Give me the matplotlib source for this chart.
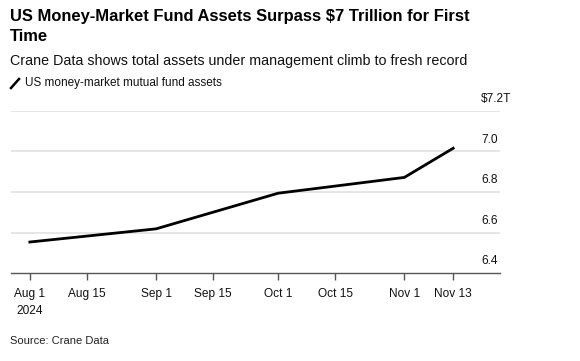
import matplotlib
matplotlib.use("Agg")
import matplotlib.pyplot as plt
import matplotlib.dates as mdates
import numpy as np
from datetime import datetime, timedelta

plt.rcParams['font.family'] = ['Liberation Sans', 'DejaVu Sans']

dates = ["2024-08-01", "2024-09-01", "2024-10-01", "2024-11-01", "2024-11-13"]
assets = [6.553, 6.618, 6.794, 6.872, 7.016]

tick_dates = ["2024-08-01", "2024-08-15", "2024-09-01", "2024-09-15",
              "2024-10-01", "2024-10-15", "2024-11-01", "2024-11-13"]
tick_labels = ["Aug 1\n2024", "Aug 15", "Sep 1", "Sep 15", "Oct 1", "Oct 15", "Nov 1", "Nov 13"]
y_ticks = [6.4, 6.6, 6.8, 7.0, 7.2]
y_labels = ["6.4", "6.6", "6.8", "7.0", "$7.2T"]

W, H = 580, 361
fig = plt.figure(figsize=(W / 100, H / 100), dpi=100)
ax = fig.add_axes([10.7 / W, 1 - 273 / H, (500 - 10.7) / W, (273 - 111) / H])

x = [datetime.strptime(d, "%Y-%m-%d") for d in dates]
ax.plot(x, assets, color="black", lw=2.0, solid_joinstyle="miter", zorder=3)

x0 = datetime(2024, 8, 1) - timedelta(days=4.7)
x1 = datetime(2024, 11, 13) + timedelta(days=11.5)
ax.set_xlim(x0, x1)
ax.set_ylim(6.4, 7.2)

for s in ["top", "right", "left"]:
    ax.spines[s].set_visible(False)
ax.spines["bottom"].set_color("#555555")
ax.spines["bottom"].set_linewidth(1.0)

for yv in y_ticks[1:]:
    ax.axhline(yv, color="#e2e2e2", lw=1.2, zorder=1)

ax.set_yticks([])
td = [datetime.strptime(d, "%Y-%m-%d") for d in tick_dates]
ax.set_xticks(td)
ax.set_xticklabels(tick_labels, fontsize=8.6, color="#111111", linespacing=1.55)
ax.tick_params(axis="x", direction="out", length=5, width=1, color="#555555", pad=6)
for lbl in ax.get_xticklabels():
    lbl.set_horizontalalignment("center")

# y labels left-aligned, above gridlines
for yv, lab in zip(y_ticks, y_labels):
    ypix = 273 - (yv - 6.4) / 0.8 * (273 - 111)
    fig.text(481 / W, 1 - (ypix - 12) / H, lab, fontsize=8.6, color="#111111",
             ha="left", va="center")

fig.text(10 / W, 1 - 16 / H, "US Money-Market Fund Assets Surpass $7 Trillion for First",
         fontsize=11.85, fontweight="bold", ha="left", va="center")
fig.text(10 / W, 1 - 36.5 / H, "Time", fontsize=11.85, fontweight="bold", ha="left", va="center")
fig.text(10 / W, 1 - 60.5 / H, "Crane Data shows total assets under management climb to fresh record",
         fontsize=10.3, ha="left", va="center", color="#111111")
fig.lines.append(plt.Line2D([11 / W, 19 / W], [1 - 88 / H, 1 - 79 / H],
                            transform=fig.transFigure, color="black", lw=1.8))
fig.text(25 / W, 1 - 83 / H, "US money-market mutual fund assets", fontsize=8.45,
         ha="left", va="center", color="#111111")
fig.text(10 / W, 1 - 341.5 / H, "Source: Crane Data", fontsize=8.0, ha="left", va="center",
         color="#222222")

fig.savefig("out.png", dpi=100)
